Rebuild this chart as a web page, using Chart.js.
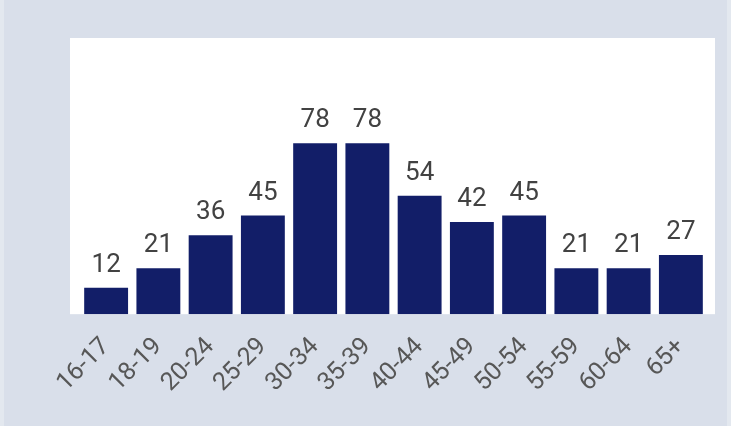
<!DOCTYPE html>
<html><head><meta charset="utf-8">
<script src="https://cdn.jsdelivr.net/npm/chart.js@4"></script>
<style>
html,body{margin:0;padding:0;background:#e3e8ef;}
#wrap{position:absolute;left:4px;top:0;width:723px;height:426px;background:#d9dfea;}
canvas{position:absolute;left:-4px;top:0;}
</style></head><body>
<div id="wrap"><canvas id="c" width="731" height="426"></canvas></div>
<script>
const categories = ["16-17","18-19","20-24","25-29","30-34","35-39","40-44","45-49","50-54","55-59","60-64","65+"];
const values = [12,21,36,45,78,78,54,42,45,21,21,27];

const whiteBg = {
  id:'whiteBg',
  beforeDraw(chart){
    const a = chart.chartArea, ctx = chart.ctx;
    ctx.save();
    ctx.fillStyle = '#ffffff';
    ctx.fillRect(a.left-10, a.top, a.right-a.left+18, a.bottom-a.top);
    ctx.restore();
  }
};
const valueLabels = {
  id:'valueLabels',
  afterDatasetsDraw(chart){
    const ctx = chart.ctx;
    const meta = chart.getDatasetMeta(0);
    ctx.save();
    ctx.font = '26px Roboto';
    ctx.fillStyle = '#424242';
    ctx.textAlign = 'center';
    ctx.textBaseline = 'alphabetic';
    meta.data.forEach((bar,i)=>{
      ctx.fillText(String(values[i]), bar.x, bar.y - 16);
    });
    ctx.restore();
  }
};

new Chart(document.getElementById('c'), {
  type:'bar',
  data:{labels:categories, datasets:[{data:values, backgroundColor:'#121e68', borderWidth:0, barPercentage:0.84, categoryPercentage:1}]},
  options:{
    responsive:false, animation:false,
    layout:{padding:{left:80, right:24, top:38, bottom:10}},
    plugins:{legend:{display:false}, tooltip:{enabled:false}},
    scales:{
      x:{grid:{display:false, drawTicks:false}, border:{display:false},
         ticks:{color:'#575757', font:{family:'Roboto', size:25}, maxRotation:45, minRotation:45, padding:18}},
      y:{display:false, min:0, max:126}
    }
  },
  plugins:[whiteBg, valueLabels]
});
</script></body></html>
